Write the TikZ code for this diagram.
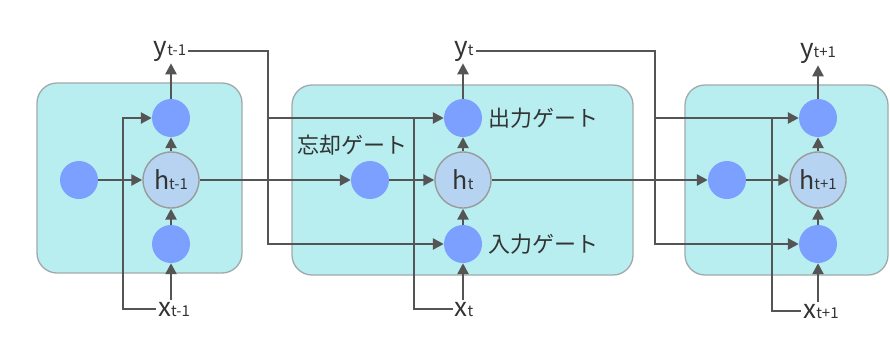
\documentclass[tikz,border=0pt]{standalone}
\usepackage{fontspec}
\setmainfont{Noto Sans CJK JP}
\usetikzlibrary{arrows.meta}
\definecolor{cellfill}{HTML}{B8EEF0}
\definecolor{cellline}{HTML}{A0AAAA}
\definecolor{gatefill}{HTML}{7BA0FF}
\definecolor{hfill}{HTML}{B6D4F2}
\definecolor{hline}{HTML}{9A9A9A}
\definecolor{wire}{HTML}{555555}
\definecolor{txt}{HTML}{333333}
\newcommand\lsub[1]{{\fontsize{15}{15}\selectfont #1}}
\begin{document}
\begin{tikzpicture}[x=1pt,y=-1pt,
 cell/.style={draw=cellline, line width=1.3pt, fill=cellfill, rounded corners=20pt},
 gate/.style={circle, fill=gatefill, minimum size=38pt, inner sep=0pt},
 hnode/.style={circle, fill=hfill, draw=hline, line width=1.4pt, minimum size=56pt, inner sep=0pt, text=txt, font=\fontsize{25}{25}\selectfont},
 wireline/.style={draw=wire, line width=2.5pt},
 arr/.style={wireline, -{Triangle[length=11pt,width=11pt]}},
 lbl/.style={text=txt, inner sep=2pt, font=\fontsize{26}{26}\selectfont, anchor=base},
 jp/.style={text=txt, inner sep=0pt, font=\fontsize{22}{22}\selectfont},
]
\fill[white] (0,0) rectangle (890,349);
\useasboundingbox (0,0) rectangle (890,349);

% cells
\draw[cell] (37,83) rectangle (242,273);
\draw[cell] (292,85) rectangle (633,275);
\draw[cell] (685,85) rectangle (888,275);

% cell 1
\node[gate] (F1) at (79,180) {};
\node[hnode] (h1) at (171,180) {h\lsub{t-1}};
\node[gate] (T1) at (171,118) {};
\node[gate] (B1) at (171,244) {};
\node[lbl] (y1) at (170,55) {y\lsub{t-1}};
\node[lbl] (x1) at (174,316) {x\lsub{t-1}};

% cell 2
\node[gate] (F2) at (370,180) {};
\node[hnode] (h2) at (463,180) {h\lsub{t}};
\node[gate] (T2) at (463,118) {};
\node[gate] (B2) at (463,244) {};
\node[lbl] (y2) at (464,55) {y\lsub{t}};
\node[lbl] (x2) at (464,316) {x\lsub{t}};
\node[jp] (lf) at (352,145) {忘却ゲート};
\node[jp, anchor=west] (lo) at (488,118) {出力ゲート};
\node[jp, anchor=west] (li) at (488,244) {入力ゲート};

% cell 3
\node[gate] (F3) at (727,180) {};
\node[hnode] (h3) at (818,180) {h\lsub{t+1}};
\node[gate] (T3) at (818,118) {};
\node[gate] (B3) at (818,244) {};
\node[lbl] (y3) at (818,57) {y\lsub{t+1}};
\node[lbl] (x3) at (821,318) {x\lsub{t+1}};

% junction coordinates
\coordinate (k1x) at (123,118);
\coordinate (k1t) at (268,118);
\coordinate (k1b) at (268,244);
\coordinate (k2x) at (414,118);
\coordinate (k2t) at (655,118);
\coordinate (k2b) at (655,244);
\coordinate (k3x) at (772,118);

% wires cell 1
\draw[arr] (F1) -- (h1);
\draw[arr] (B1) -- (h1);
\draw[arr] (h1) -- (T1);
\draw[arr] (T1) -- (T1 |- y1.south);
\draw[arr] (B1 |- x1.north) -- (B1);
\draw[arr] (x1.west) -| (k1x) -- (T1);

% cell 1 -> cell 2
\draw[arr] (y1.east) -| (k1b) -- (B2);
\draw[arr] (k1t) -- (T2);
\draw[arr] (h1) -- (F2);

% wires cell 2
\draw[arr] (F2) -- (h2);
\draw[arr] (B2) -- (h2);
\draw[arr] (h2) -- (T2);
\draw[arr] (T2) -- (T2 |- y2.south);
\draw[arr] (B2 |- x2.north) -- (B2);
\draw[wireline] (x2.west) -| (k2x);

% cell 2 -> cell 3
\draw[arr] (y2.east) -| (k2b) -- (B3);
\draw[arr] (k2t) -- (T3);
\draw[arr] (h2) -- (F3);

% wires cell 3
\draw[arr] (F3) -- (h3);
\draw[arr] (B3) -- (h3);
\draw[arr] (h3) -- (T3);
\draw[arr] (T3) -- (T3 |- y3.south);
\draw[arr] (B3 |- x3.north) -- (B3);
\draw[wireline] (x3.west) -| (k3x);
\end{tikzpicture}
\end{document}
